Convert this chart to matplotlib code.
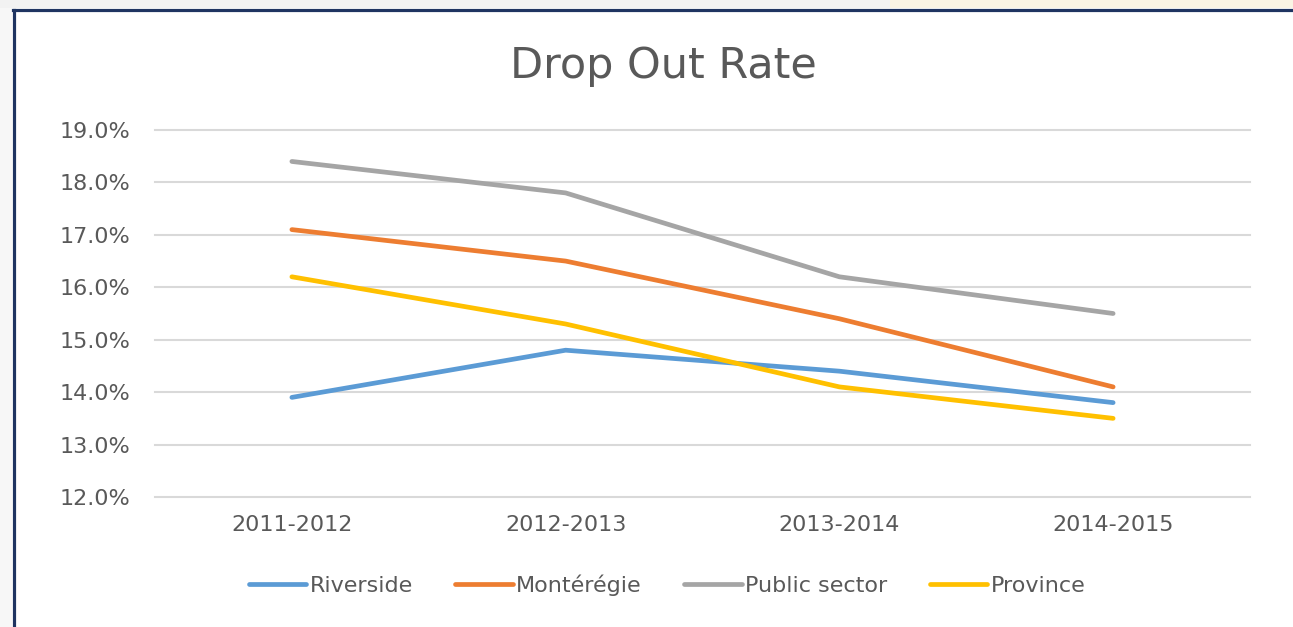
import matplotlib.pyplot as plt
from matplotlib.lines import Line2D
from matplotlib.patches import Rectangle
from matplotlib.ticker import FuncFormatter

years = ['2011-2012', '2012-2013', '2013-2014', '2014-2015']
riverside = [13.9, 14.8, 14.4, 13.8]
monteregie = [17.1, 16.5, 15.4, 14.1]
public_sector = [18.4, 17.8, 16.2, 15.5]
province = [16.2, 15.3, 14.1, 13.5]

series = [
    ('Riverside', riverside, '#5b9bd5'),
    ('Montérégie', monteregie, '#ed7d31'),
    ('Public sector', public_sector, '#a5a5a5'),
    ('Province', province, '#ffc000'),
]
text_col = '#595959'

plt.rcParams['font.family'] = ['DejaVu Sans']

fig = plt.figure(figsize=(12.93, 6.27), dpi=100)
fig.patch.set_facecolor('white')

# strip above the chart frame (screenshot edge)
fig.add_artist(Rectangle((0, 1 - 8 / 627), 890 / 1293, 8 / 627, transform=fig.transFigure,
                         facecolor='#f2f2f2', edgecolor='none'))
fig.add_artist(Rectangle((890 / 1293, 1 - 8 / 627), 1 - 890 / 1293, 8 / 627, transform=fig.transFigure,
                         facecolor='#faf4e4', edgecolor='none'))
fig.add_artist(Rectangle((0, 0), 12 / 1293, 1 - 8 / 627, transform=fig.transFigure,
                         facecolor='#f7f7f7', edgecolor='none'))
# navy frame
fig.add_artist(Line2D([13.5 / 1293, 13.5 / 1293], [0, 1 - 9.5 / 627], transform=fig.transFigure,
                      color='#1f3461', lw=2.3))
fig.add_artist(Line2D([12.5 / 1293, 1], [1 - 9.5 / 627, 1 - 9.5 / 627], transform=fig.transFigure,
                      color='#1f3461', lw=2.3))

ax = fig.add_axes([155 / 1293, 1 - 497 / 627, (1250 - 155) / 1293, (497 - 130) / 627])
x = range(len(years))
for name, vals, col in series:
    ax.plot(x, vals, color=col, lw=3.4, solid_capstyle='round', label=name, zorder=3)

ax.set_xlim(-0.5, len(years) - 0.5)
ax.set_ylim(12, 19)
ax.set_yticks([12, 13, 14, 15, 16, 17, 18, 19])
ax.yaxis.set_major_formatter(FuncFormatter(lambda v, p: f'{v:.1f}%'))
ax.set_xticks(list(x))
ax.set_xticklabels(years)
ax.grid(axis='y', color='#d9d9d9', lw=1.5, zorder=0)
for gl in ax.get_ygridlines():
    gl.set_clip_on(False)
for s in ax.spines.values():
    s.set_visible(False)
ax.tick_params(axis='both', length=0, labelsize=16, labelcolor=text_col)
ax.tick_params(axis='y', pad=18)
ax.tick_params(axis='x', pad=13)

fig.text(663 / 1293, 1 - 66 / 627, 'Drop Out Rate', ha='center', va='center',
         fontsize=31, color=text_col)

fig.legend(loc='center', bbox_to_anchor=(667 / 1293, 1 - 585 / 627), ncol=4, frameon=False,
           fontsize=16, labelcolor=text_col, handlelength=2.6, handletextpad=0.15,
           columnspacing=1.9)

fig.savefig('out.png', dpi=100)
